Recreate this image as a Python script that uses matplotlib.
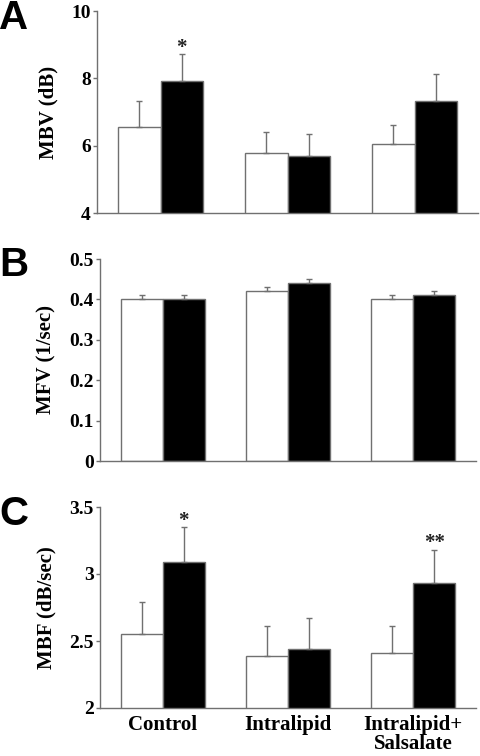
import matplotlib
matplotlib.use("Agg")
import matplotlib.pyplot as plt
import numpy as np

categories = ["Control", "Intralipid", "Intralipid+\nSalsalate"]

mbv_white = [6.55, 5.77, 6.04]
mbv_white_err = [0.78, 0.65, 0.56]
mbv_black = [7.91, 5.68, 7.33]
mbv_black_err = [0.81, 0.66, 0.79]

mfv_white = [0.40, 0.42, 0.40]
mfv_white_err = [0.01, 0.01, 0.01]
mfv_black = [0.40, 0.44, 0.41]
mfv_black_err = [0.01, 0.01, 0.01]

mbf_white = [2.55, 2.39, 2.41]
mbf_white_err = [0.24, 0.22, 0.20]
mbf_black = [3.09, 2.44, 2.93]
mbf_black_err = [0.26, 0.23, 0.25]

panel_letters = ["A", "B", "C"]
ylabels = ["MBV (dB)", "MFV (1/sec)", "MBF (dB/sec)"]
ylims = [(4, 10), (0, 0.5), (2, 3.5)]
yticks = [[4, 6, 8, 10], [0, 0.1, 0.2, 0.3, 0.4, 0.5], [2, 2.5, 3, 3.5]]
ytick_labels = [["4", "6", "8", "10"], ["0", "0.1", "0.2", "0.3", "0.4", "0.5"], ["2", "2.5", "3", "3.5"]]
# significance marks: (panel, group, text)
sig_marks = [(0, 0, "*"), (2, 0, "*"), (2, 2, "**")]

W, H = 480, 756
fig = plt.figure(figsize=(W / 100, H / 100), dpi=100)

gray = "#707070"
serif = ["Liberation Serif", "DejaVu Serif"]
sans = ["Liberation Sans", "DejaVu Sans"]

# axes boxes in pixels: left, top, right, bottom
boxes = [(97, 11, 478, 213), (100, 259, 476, 461), (100, 507, 476, 708)]
data = [
    (mbv_white, mbv_white_err, mbv_black, mbv_black_err),
    (mfv_white, mfv_white_err, mfv_black, mfv_black_err),
    (mbf_white, mbf_white_err, mbf_black, mbf_black_err),
]
letter_pos = [(14, 18), (14, 265), (14, 514)]

x = np.arange(len(categories))
bw = 0.335
axes = []
for i, (l, t, r, b) in enumerate(boxes):
    ax = fig.add_axes([l / W, 1 - b / H, (r - l) / W, (b - t) / H])
    axes.append(ax)
    wv, we, bv, be = data[i]
    ax.bar(x - bw / 2, wv, bw, color="white", edgecolor=gray, linewidth=1.0,
           yerr=[np.zeros(3), we], error_kw=dict(ecolor=gray, elinewidth=1.0, capsize=2.5, capthick=1.0),
           zorder=2)
    ax.bar(x + bw / 2, bv, bw, color="black", edgecolor=gray, linewidth=1.0,
           yerr=[np.zeros(3), be], error_kw=dict(ecolor=gray, elinewidth=1.0, capsize=2.5, capthick=1.0),
           zorder=2)
    ax.set_ylim(*ylims[i])
    ax.set_xlim(-0.5, 2.5)
    ax.set_yticks(yticks[i])
    ax.set_yticklabels(ytick_labels[i], fontfamily=serif, fontweight="bold", fontsize=14)
    ax.tick_params(axis="y", direction="out", length=3, width=1.0, color=gray, pad=1.5)
    ax.tick_params(axis="x", length=0)
    for s in ["top", "right"]:
        ax.spines[s].set_visible(False)
    for s in ["left", "bottom"]:
        ax.spines[s].set_color(gray)
        ax.spines[s].set_linewidth(1.0)
    ax.set_ylabel(ylabels[i], fontfamily=serif, fontweight="bold", fontsize=15, labelpad=9)
    if i < 2:
        ax.set_xticks([])
    else:
        ax.set_xticks(x)
        ax.set_xticklabels(categories, fontfamily=serif, fontweight="bold", fontsize=15,
                           linespacing=0.92)
        ax.tick_params(axis="x", pad=5)
    fig.text(letter_pos[i][0] / W, 1 - letter_pos[i][1] / H, panel_letters[i],
             fontfamily=sans, fontweight="bold", fontsize=29, ha="center", va="center")

for (p, g, txt) in sig_marks:
    ax = axes[p]
    wv, we, bv, be = data[p]
    ax.annotate(txt, xy=(x[g] + bw / 2, bv[g] + be[g]), xytext=(0, -2.5),
                textcoords="offset points", ha="center", va="bottom",
                fontfamily=serif, fontweight="bold", fontsize=15, color="#222222")

fig.savefig("out.png", dpi=100)
